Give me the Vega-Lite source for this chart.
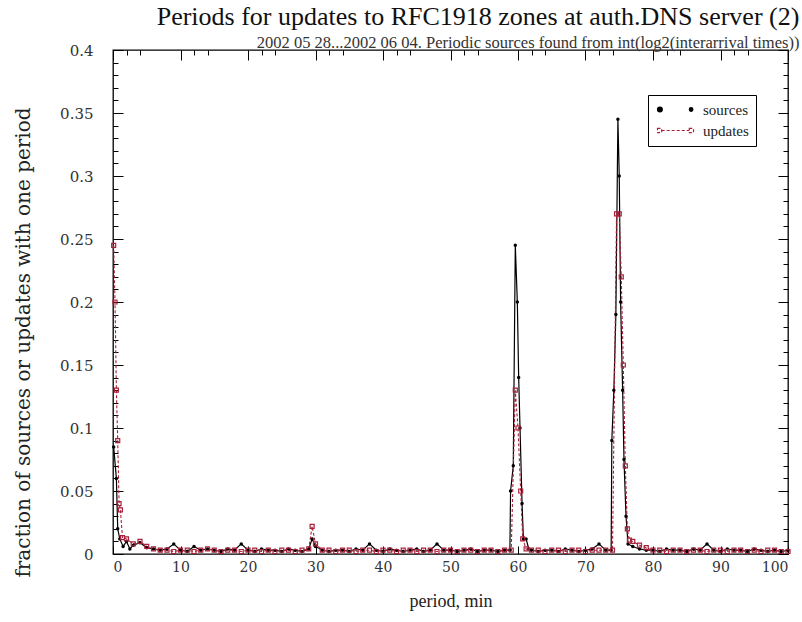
{
"$schema": "https://vega.github.io/schema/vega-lite/v6.json",
"width": 675, "height": 504,
"autosize": "none",
"padding": {"left": 113, "top": 50, "right": 14, "bottom": 68},
"background": "white",
"title": {"text": "Periods for updates to RFC1918 zones at auth.DNS server (2)", "subtitle": "2002 05 28...2002 06 04. Periodic sources found from int(log2(interarrival times))", "anchor": "end", "dx": 7, "font": "Liberation Serif", "fontSize": 26, "fontWeight": "normal", "color": "#111", "subtitleFont": "Liberation Serif", "subtitleFontSize": 16.5, "subtitleColor": "#333", "offset": -8, "subtitlePadding": 5},
"config": {
  "view": {"stroke": "black", "strokeWidth": 1.3},
  "axis": {"domainColor": "black", "grid": false, "labelColor": "#333", "titleFontWeight": "normal", "titleColor": "#222"}
},
"datasets": {
"rows": [
{"p":0.1,"v":0.085,"s":"sources"},{"p":0.5,"v":0.06,"s":"sources"},{"p":0.7,"v":0.02,"s":"sources"},{"p":1,"v":0.012,"s":"sources"},{"p":1.5,"v":0.006,"s":"sources"},{"p":2,"v":0.01,"s":"sources"},{"p":2.5,"v":0.004,"s":"sources"},{"p":3,"v":0.007,"s":"sources"},{"p":4,"v":0.009,"s":"sources"},{"p":5,"v":0.005,"s":"sources"},{"p":6,"v":0.004,"s":"sources"},{"p":7,"v":0.003,"s":"sources"},{"p":8,"v":0.004,"s":"sources"},{"p":9,"v":0.008,"s":"sources"},{"p":10,"v":0.003,"s":"sources"},{"p":11,"v":0.002,"s":"sources"},{"p":12,"v":0.006,"s":"sources"},{"p":13,"v":0.003,"s":"sources"},{"p":14,"v":0.004,"s":"sources"},{"p":15,"v":0.003,"s":"sources"},{"p":16,"v":0.002,"s":"sources"},{"p":17,"v":0.004,"s":"sources"},{"p":18,"v":0.003,"s":"sources"},{"p":19,"v":0.008,"s":"sources"},{"p":20,"v":0.003,"s":"sources"},{"p":21,"v":0.002,"s":"sources"},{"p":22,"v":0.004,"s":"sources"},{"p":23,"v":0.003,"s":"sources"},{"p":24,"v":0.003,"s":"sources"},{"p":25,"v":0.002,"s":"sources"},{"p":26,"v":0.004,"s":"sources"},{"p":27,"v":0.003,"s":"sources"},{"p":28,"v":0.002,"s":"sources"},{"p":29,"v":0.004,"s":"sources"},{"p":29.5,"v":0.012,"s":"sources"},{"p":30,"v":0.006,"s":"sources"},{"p":31,"v":0.003,"s":"sources"},{"p":32,"v":0.002,"s":"sources"},{"p":33,"v":0.003,"s":"sources"},{"p":34,"v":0.003,"s":"sources"},{"p":35,"v":0.002,"s":"sources"},{"p":36,"v":0.004,"s":"sources"},{"p":37,"v":0.003,"s":"sources"},{"p":38,"v":0.008,"s":"sources"},{"p":39,"v":0.003,"s":"sources"},{"p":40,"v":0.002,"s":"sources"},{"p":41,"v":0.004,"s":"sources"},{"p":42,"v":0.003,"s":"sources"},{"p":43,"v":0.002,"s":"sources"},{"p":44,"v":0.003,"s":"sources"},{"p":45,"v":0.004,"s":"sources"},{"p":46,"v":0.002,"s":"sources"},{"p":47,"v":0.003,"s":"sources"},{"p":48,"v":0.008,"s":"sources"},{"p":49,"v":0.003,"s":"sources"},{"p":50,"v":0.003,"s":"sources"},{"p":51,"v":0.002,"s":"sources"},{"p":52,"v":0.003,"s":"sources"},{"p":53,"v":0.004,"s":"sources"},{"p":54,"v":0.002,"s":"sources"},{"p":55,"v":0.003,"s":"sources"},{"p":56,"v":0.003,"s":"sources"},{"p":57,"v":0.002,"s":"sources"},{"p":58,"v":0.003,"s":"sources"},{"p":58.8,"v":0.003,"s":"sources"},{"p":58.9,"v":0.05,"s":"sources"},{"p":59.3,"v":0.07,"s":"sources"},{"p":59.6,"v":0.245,"s":"sources"},{"p":59.9,"v":0.2,"s":"sources"},{"p":60.1,"v":0.14,"s":"sources"},{"p":60.3,"v":0.1,"s":"sources"},{"p":60.6,"v":0.04,"s":"sources"},{"p":60.8,"v":0.012,"s":"sources"},{"p":61.2,"v":0.012,"s":"sources"},{"p":61.6,"v":0.004,"s":"sources"},{"p":62,"v":0.003,"s":"sources"},{"p":63,"v":0.002,"s":"sources"},{"p":64,"v":0.003,"s":"sources"},{"p":65,"v":0.003,"s":"sources"},{"p":66,"v":0.002,"s":"sources"},{"p":67,"v":0.004,"s":"sources"},{"p":68,"v":0.003,"s":"sources"},{"p":69,"v":0.002,"s":"sources"},{"p":70,"v":0.003,"s":"sources"},{"p":71,"v":0.004,"s":"sources"},{"p":72,"v":0.008,"s":"sources"},{"p":73,"v":0.003,"s":"sources"},{"p":73.8,"v":0.003,"s":"sources"},{"p":73.9,"v":0.09,"s":"sources"},{"p":74.2,"v":0.13,"s":"sources"},{"p":74.5,"v":0.19,"s":"sources"},{"p":74.8,"v":0.345,"s":"sources"},{"p":75,"v":0.3,"s":"sources"},{"p":75.2,"v":0.2,"s":"sources"},{"p":75.5,"v":0.13,"s":"sources"},{"p":75.7,"v":0.075,"s":"sources"},{"p":76,"v":0.03,"s":"sources"},{"p":76.3,"v":0.008,"s":"sources"},{"p":77,"v":0.006,"s":"sources"},{"p":78,"v":0.004,"s":"sources"},{"p":79,"v":0.003,"s":"sources"},{"p":80,"v":0.003,"s":"sources"},{"p":81,"v":0.002,"s":"sources"},{"p":82,"v":0.004,"s":"sources"},{"p":83,"v":0.003,"s":"sources"},{"p":84,"v":0.003,"s":"sources"},{"p":85,"v":0.002,"s":"sources"},{"p":86,"v":0.004,"s":"sources"},{"p":87,"v":0.003,"s":"sources"},{"p":88,"v":0.008,"s":"sources"},{"p":89,"v":0.003,"s":"sources"},{"p":90,"v":0.002,"s":"sources"},{"p":91,"v":0.004,"s":"sources"},{"p":92,"v":0.003,"s":"sources"},{"p":93,"v":0.003,"s":"sources"},{"p":94,"v":0.002,"s":"sources"},{"p":95,"v":0.004,"s":"sources"},{"p":96,"v":0.003,"s":"sources"},{"p":97,"v":0.002,"s":"sources"},{"p":98,"v":0.003,"s":"sources"},{"p":99,"v":0.002,"s":"sources"},{"p":100,"v":0.003,"s":"sources"},
{"p":0.1,"v":0.245,"s":"updates"},{"p":0.3,"v":0.2,"s":"updates"},{"p":0.5,"v":0.13,"s":"updates"},{"p":0.7,"v":0.09,"s":"updates"},{"p":0.9,"v":0.04,"s":"updates"},{"p":1.1,"v":0.035,"s":"updates"},{"p":1.4,"v":0.013,"s":"updates"},{"p":2,"v":0.012,"s":"updates"},{"p":3,"v":0.008,"s":"updates"},{"p":4,"v":0.01,"s":"updates"},{"p":5,"v":0.006,"s":"updates"},{"p":6,"v":0.004,"s":"updates"},{"p":7,"v":0.003,"s":"updates"},{"p":8,"v":0.003,"s":"updates"},{"p":9,"v":0.002,"s":"updates"},{"p":10,"v":0.003,"s":"updates"},{"p":11,"v":0.003,"s":"updates"},{"p":12,"v":0.002,"s":"updates"},{"p":13,"v":0.003,"s":"updates"},{"p":14,"v":0.004,"s":"updates"},{"p":15,"v":0.003,"s":"updates"},{"p":16,"v":0.002,"s":"updates"},{"p":17,"v":0.003,"s":"updates"},{"p":18,"v":0.003,"s":"updates"},{"p":19,"v":0.002,"s":"updates"},{"p":20,"v":0.003,"s":"updates"},{"p":21,"v":0.003,"s":"updates"},{"p":22,"v":0.002,"s":"updates"},{"p":23,"v":0.003,"s":"updates"},{"p":24,"v":0.002,"s":"updates"},{"p":25,"v":0.003,"s":"updates"},{"p":26,"v":0.003,"s":"updates"},{"p":27,"v":0.002,"s":"updates"},{"p":28,"v":0.003,"s":"updates"},{"p":29,"v":0.004,"s":"updates"},{"p":29.5,"v":0.022,"s":"updates"},{"p":30,"v":0.008,"s":"updates"},{"p":31,"v":0.003,"s":"updates"},{"p":32,"v":0.003,"s":"updates"},{"p":33,"v":0.002,"s":"updates"},{"p":34,"v":0.003,"s":"updates"},{"p":35,"v":0.003,"s":"updates"},{"p":36,"v":0.002,"s":"updates"},{"p":37,"v":0.003,"s":"updates"},{"p":38,"v":0.003,"s":"updates"},{"p":39,"v":0.002,"s":"updates"},{"p":40,"v":0.003,"s":"updates"},{"p":41,"v":0.003,"s":"updates"},{"p":42,"v":0.002,"s":"updates"},{"p":43,"v":0.003,"s":"updates"},{"p":44,"v":0.003,"s":"updates"},{"p":45,"v":0.002,"s":"updates"},{"p":46,"v":0.003,"s":"updates"},{"p":47,"v":0.003,"s":"updates"},{"p":48,"v":0.002,"s":"updates"},{"p":49,"v":0.003,"s":"updates"},{"p":50,"v":0.003,"s":"updates"},{"p":51,"v":0.002,"s":"updates"},{"p":52,"v":0.003,"s":"updates"},{"p":53,"v":0.003,"s":"updates"},{"p":54,"v":0.002,"s":"updates"},{"p":55,"v":0.003,"s":"updates"},{"p":56,"v":0.003,"s":"updates"},{"p":57,"v":0.002,"s":"updates"},{"p":58,"v":0.003,"s":"updates"},{"p":59,"v":0.003,"s":"updates"},{"p":59.6,"v":0.13,"s":"updates"},{"p":60,"v":0.1,"s":"updates"},{"p":60.4,"v":0.05,"s":"updates"},{"p":60.7,"v":0.012,"s":"updates"},{"p":61.2,"v":0.004,"s":"updates"},{"p":62,"v":0.003,"s":"updates"},{"p":63,"v":0.003,"s":"updates"},{"p":64,"v":0.002,"s":"updates"},{"p":65,"v":0.003,"s":"updates"},{"p":66,"v":0.003,"s":"updates"},{"p":67,"v":0.002,"s":"updates"},{"p":68,"v":0.003,"s":"updates"},{"p":69,"v":0.003,"s":"updates"},{"p":70,"v":0.002,"s":"updates"},{"p":71,"v":0.003,"s":"updates"},{"p":72,"v":0.003,"s":"updates"},{"p":73,"v":0.003,"s":"updates"},{"p":74,"v":0.003,"s":"updates"},{"p":74.6,"v":0.27,"s":"updates"},{"p":75,"v":0.27,"s":"updates"},{"p":75.3,"v":0.22,"s":"updates"},{"p":75.6,"v":0.15,"s":"updates"},{"p":75.9,"v":0.07,"s":"updates"},{"p":76.2,"v":0.02,"s":"updates"},{"p":76.5,"v":0.011,"s":"updates"},{"p":77,"v":0.01,"s":"updates"},{"p":78,"v":0.007,"s":"updates"},{"p":79,"v":0.005,"s":"updates"},{"p":80,"v":0.003,"s":"updates"},{"p":81,"v":0.003,"s":"updates"},{"p":82,"v":0.002,"s":"updates"},{"p":83,"v":0.003,"s":"updates"},{"p":84,"v":0.003,"s":"updates"},{"p":85,"v":0.002,"s":"updates"},{"p":86,"v":0.003,"s":"updates"},{"p":87,"v":0.003,"s":"updates"},{"p":88,"v":0.002,"s":"updates"},{"p":89,"v":0.003,"s":"updates"},{"p":90,"v":0.003,"s":"updates"},{"p":91,"v":0.002,"s":"updates"},{"p":92,"v":0.003,"s":"updates"},{"p":93,"v":0.003,"s":"updates"},{"p":94,"v":0.002,"s":"updates"},{"p":95,"v":0.003,"s":"updates"},{"p":96,"v":0.002,"s":"updates"},{"p":97,"v":0.003,"s":"updates"},{"p":98,"v":0.003,"s":"updates"},{"p":99,"v":0.002,"s":"updates"},{"p":100,"v":0.002,"s":"updates"}
]
},
"data": {"name": "rows"},
"resolve": {"axis": {"x": "independent", "y": "independent"}},
"layer": [
 {
  "transform": [{"filter": "datum.s === 'sources'"}],
  "mark": {"type": "line", "strokeWidth": 1.2},
  "encoding": {
   "x": {"field": "p", "type": "quantitative", "scale": {"domain": [0, 100], "nice": false},
     "axis": {"orient": "bottom", "title": "period, min", "titleFont": "Liberation Serif", "titleFontSize": 18, "titlePadding": 18,
       "labelFont": "DejaVu Serif", "labelFontSize": 14, "values": [0,10,20,30,40,50,60,70,80,90,100],
       "tickColor": "black", "tickSize": -8, "labelPadding": 14, "domain": false}},
   "y": {"field": "v", "type": "quantitative", "scale": {"domain": [0, 0.4], "nice": false},
     "axis": {"orient": "left", "title": "fraction of sources or updates with one period", "titleFont": "DejaVu Serif", "titleFontSize": 20, "titlePadding": 26, "titleY": 292,
       "labelFont": "DejaVu Serif", "labelFontSize": 15,
       "values": [0,0.05,0.1,0.15,0.2,0.25,0.3,0.35,0.4],
       "labelExpr": "format(datum.value, '~g')",
       "tickColor": "black", "tickSize": -10, "labelPadding": 30, "domain": false}},
   "color": {"field": "s", "type": "nominal", "scale": {"domain": ["sources", "updates"], "range": ["black", "#a8213a"]},
     "legend": {"title": null, "orient": "none", "legendX": 535, "legendY": 45, "strokeColor": "black", "padding": 7, "labelFont": "Liberation Serif", "labelFontSize": 15, "labelColor": "#222", "symbolSize": 144, "symbolStrokeWidth": 1.2, "symbolOffset": 13, "rowPadding": 5, "labelOffset": 20,
       "encode": {"symbols": {"update": {
         "shape": {"signal": "datum.value === 'sources' ? 'M-3,0A0.4,0.4,0,1,1,-2.2,0A0.4,0.4,0,1,1,-3,0ZM2.3,0A0.3,0.3,0,1,1,2.9,0A0.3,0.3,0,1,1,2.3,0Z' : 'M-3,-0.35H-2.3V0.35H-3ZM-2.3,0H2.3M2.3,-0.35H3V0.35H2.3Z'"},
         "fill": {"signal": "datum.value === 'sources' ? 'black' : 'transparent'"},
         "strokeDash": {"signal": "datum.value === 'sources' ? [] : [3, 2]"}}}}}}
  }
 },
 {
  "transform": [{"filter": "datum.s === 'updates'"}],
  "mark": {"type": "line", "strokeWidth": 1.1, "strokeDash": [3, 2]},
  "encoding": {
   "x": {"field": "p", "type": "quantitative", "axis": null},
   "y": {"field": "v", "type": "quantitative",
     "axis": {"orient": "right", "title": null, "labels": false, "domain": false, "tickColor": "black", "tickSize": -5,
       "values": [0.01,0.02,0.03,0.04,0.06,0.07,0.08,0.09,0.11,0.12,0.13,0.14,0.16,0.17,0.18,0.19,0.21,0.22,0.23,0.24,0.26,0.27,0.28,0.29,0.31,0.32,0.33,0.34,0.36,0.37,0.38,0.39]}},
   "color": {"field": "s", "type": "nominal"}
  }
 },
 {
  "transform": [{"filter": "datum.s === 'sources'"}],
  "mark": {"type": "point", "shape": "circle", "filled": true, "size": 12, "color": "black", "opacity": 1},
  "encoding": {
   "x": {"field": "p", "type": "quantitative",
     "axis": {"orient": "top", "title": null, "labels": false, "domain": false, "tickColor": "black", "tickSize": -10,
       "values": [0,10,20,30,40,50,60,70,80,90,100]}},
   "y": {"field": "v", "type": "quantitative",
     "axis": {"orient": "right", "title": null, "labels": false, "domain": false, "tickColor": "black", "tickSize": -10,
       "values": [0,0.05,0.1,0.15,0.2,0.25,0.3,0.35,0.4]}}
  }
 },
 {
  "transform": [{"filter": "datum.s === 'updates'"}],
  "mark": {"type": "point", "shape": "square", "filled": false, "size": 16, "strokeWidth": 1.2, "color": "#a8213a", "opacity": 1},
  "encoding": {
   "x": {"field": "p", "type": "quantitative",
     "axis": {"orient": "top", "title": null, "labels": false, "domain": false, "tickColor": "black", "tickSize": -5,
       "values": [2,4,12,14,22,24,32,34,42,44,52,54,62,64,72,74,82,84,92,94]}},
   "y": {"field": "v", "type": "quantitative",
     "axis": {"orient": "left", "title": null, "labels": false, "domain": false, "tickColor": "black", "tickSize": -5,
       "values": [0.01,0.02,0.03,0.04,0.06,0.07,0.08,0.09,0.11,0.12,0.13,0.14,0.16,0.17,0.18,0.19,0.21,0.22,0.23,0.24,0.26,0.27,0.28,0.29,0.31,0.32,0.33,0.34,0.36,0.37,0.38,0.39]}}
  }
 }
]
}
